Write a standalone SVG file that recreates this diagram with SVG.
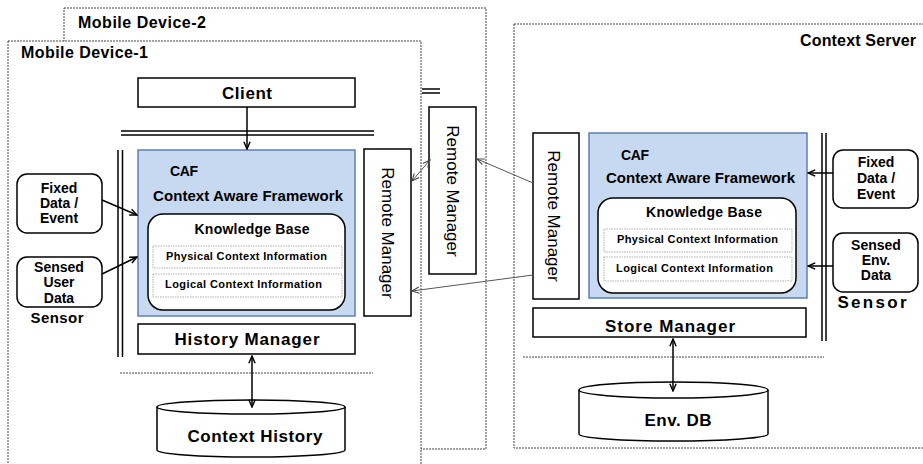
<svg xmlns="http://www.w3.org/2000/svg" width="923" height="464" viewBox="0 0 923 464">
<style>
.dot{fill:#fff;stroke:#444;stroke-width:1;stroke-dasharray:2 1}
.dl{fill:none;stroke:#444;stroke-width:1;stroke-dasharray:2 1}
.box{fill:#fff;stroke:#000;stroke-width:1.5}
.caf{fill:#c6d9f0;stroke:#5f7fb0;stroke-width:1.5}
.info{fill:#fff;stroke:#999;stroke-width:0.8;stroke-dasharray:1.5 1}
.ln{fill:none;stroke:#000;stroke-width:1.5}
.th{fill:none;stroke:#555;stroke-width:1}
text{font-family:"Liberation Sans",Arial,sans-serif;font-weight:bold;fill:#000}
.t15{font-size:15px}
.t16{font-size:16px}
.t17{font-size:17px}
.t14{font-size:14px}
.t11{font-size:11px}
.mid{text-anchor:middle}
.rm{font-weight:normal;font-size:17px;text-anchor:middle;dominant-baseline:central}
</style>
<defs>
<marker id="ah" viewBox="0 0 10 10" refX="9" refY="5" markerUnits="userSpaceOnUse" markerWidth="9" markerHeight="9" orient="auto-start-reverse">
<path d="M1,1.5 L9,5 L1,8.5" fill="none" stroke="#000" stroke-width="1.6"/>
</marker>
<marker id="ahg" viewBox="0 0 10 10" refX="9" refY="5" markerUnits="userSpaceOnUse" markerWidth="9" markerHeight="9" orient="auto-start-reverse">
<path d="M1,1.5 L9,5 L1,8.5" fill="none" stroke="#444" stroke-width="1.2"/>
</marker>
</defs>
<rect width="923" height="464" fill="#fff"/>

<g id="device2">
<rect class="dot" x="64" y="8" width="422" height="441"/>
<text class="t16" x="78" y="28" textLength="128">Mobile Device-2</text>
<line class="ln" x1="422" y1="89" x2="440" y2="89"/>
<line class="ln" x1="422" y1="93" x2="440" y2="93"/>
</g>
<g id="rm2">
<rect class="box" x="429" y="107" width="47" height="167"/>
<text class="rm" transform="translate(452,191) rotate(90)">Remote Manager</text>
</g>

<g id="device1">
<rect class="dot" x="8" y="41" width="413" height="440"/>
<text class="t16" x="21" y="58" textLength="127">Mobile Device-1</text>
<line class="ln" x1="121" y1="131" x2="374" y2="131"/>
<line class="ln" x1="121" y1="135" x2="374" y2="135"/>
<line class="ln" x1="118" y1="150" x2="118" y2="357"/>
<line class="ln" x1="122.5" y1="150" x2="122.5" y2="357"/>
<line class="dl" x1="120" y1="373" x2="373" y2="373"/>
<text class="t15 mid" x="57" y="323" textLength="53">Sensor</text>
</g>

<g id="client">
<rect class="box" x="138" y="78" width="217" height="29"/>
<text class="t17 mid" x="247" y="99" textLength="50">Client</text>
</g>

<g id="caf1">
<rect class="caf" x="138" y="150" width="217" height="166"/>
<text class="t14" x="170" y="176" textLength="28">CAF</text>
<text class="t15" x="153" y="201" textLength="190">Context Aware Framework</text>
<rect class="box" x="148" y="214" width="197" height="96" rx="15"/>
<text class="t14 mid" x="252" y="234" textLength="115">Knowledge Base</text>
<rect class="info" x="153" y="246" width="189" height="22"/>
<text class="t11" x="166" y="260" textLength="161">Physical Context Information</text>
<rect class="info" x="153" y="274" width="189" height="23"/>
<text class="t11" x="165" y="288" textLength="157">Logical Context Information</text>
</g>

<g id="fixed1">
<rect class="box" x="17" y="174" width="85" height="59" rx="10"/>
<text class="t14 mid" x="59" y="193">Fixed</text>
<text class="t14 mid" x="59" y="208">Data /</text>
<text class="t14 mid" x="59" y="223">Event</text>
</g>
<g id="sensed1">
<rect class="box" x="17" y="257" width="85" height="50" rx="10"/>
<text class="t14 mid" x="59" y="272">Sensed</text>
<text class="t14 mid" x="59" y="287">User</text>
<text class="t14 mid" x="59" y="303">Data</text>
</g>

<g id="rm1">
<rect class="box" x="364" y="149" width="47" height="167"/>
<text class="rm" transform="translate(387,233) rotate(90)">Remote Manager</text>
</g>

<g id="history-manager">
<rect class="box" x="138" y="324" width="217" height="30"/>
<text class="t17 mid" x="247" y="345" textLength="145">History Manager</text>
</g>

<g id="context-history">
<path class="box" d="M157,407 A94,7 0 0 1 345,407 L345,450 A94,7 0 0 1 157,450 Z"/>
<path class="ln" d="M157,407 A94,7 0 0 0 345,407"/>
<text class="t17 mid" x="255" y="442" textLength="135">Context History</text>
</g>

<g id="server">
<rect class="dot" x="514" y="24" width="420" height="424"/>
<text class="t16" x="916" y="46" text-anchor="end" textLength="116">Context Server</text>
<line class="ln" x1="822" y1="133" x2="822" y2="341"/>
<line class="ln" x1="826" y1="133" x2="826" y2="341"/>
<line class="dl" x1="523" y1="357" x2="824" y2="357"/>
<text class="t17 mid" x="872" y="308" textLength="69">Sensor</text>
</g>

<g id="rm-server">
<rect class="box" x="533" y="133" width="46" height="166"/>
<text class="rm" transform="translate(553,216) rotate(90)">Remote Manager</text>
</g>

<g id="caf-server">
<rect class="caf" x="589" y="133" width="218" height="165"/>
<text class="t14" x="621" y="160" textLength="28">CAF</text>
<text class="t15" x="606" y="183" textLength="189">Context Aware Framework</text>
<rect class="box" x="598" y="198" width="198" height="95" rx="15"/>
<text class="t14 mid" x="704" y="217" textLength="116">Knowledge Base</text>
<rect class="info" x="604" y="229" width="188" height="23"/>
<text class="t11" x="617" y="243" textLength="161">Physical Context Information</text>
<rect class="info" x="604" y="257" width="188" height="24"/>
<text class="t11" x="616" y="272" textLength="157">Logical Context Information</text>
</g>

<g id="fixed-server">
<rect class="box" x="833" y="150" width="85" height="58" rx="10"/>
<text class="t14 mid" x="876" y="167">Fixed</text>
<text class="t14 mid" x="876" y="183">Data /</text>
<text class="t14 mid" x="876" y="199">Event</text>
</g>
<g id="sensed-server">
<rect class="box" x="833" y="233" width="85" height="59" rx="10"/>
<text class="t14 mid" x="876" y="250">Sensed</text>
<text class="t14 mid" x="876" y="265">Env.</text>
<text class="t14 mid" x="876" y="280">Data</text>
</g>

<g id="store-manager">
<rect class="box" x="533" y="308" width="273" height="29"/>
<text class="t17 mid" x="670" y="332" textLength="130">Store Manager</text>
</g>

<g id="env-db">
<path class="box" d="M579,390 A94.5,8 0 0 1 768,390 L768,434 A94.5,7 0 0 1 579,434 Z"/>
<path class="ln" d="M579,390 A94.5,8 0 0 0 768,390"/>
<text class="t17 mid" x="678" y="426" textLength="67">Env. DB</text>
</g>

<g id="connectors">
<line class="ln" x1="247" y1="107" x2="247" y2="149" marker-end="url(#ah)"/>
<line class="ln" x1="102" y1="200" x2="137" y2="215" marker-end="url(#ah)"/>
<line class="ln" x1="102" y1="274" x2="137" y2="257" marker-end="url(#ah)"/>
<line class="ln" x1="252" y1="356" x2="252" y2="407" marker-start="url(#ah)" marker-end="url(#ah)"/>
<line class="ln" x1="833" y1="173" x2="808" y2="173" marker-end="url(#ah)"/>
<line class="ln" x1="833" y1="266" x2="808" y2="266" marker-end="url(#ah)"/>
<line class="ln" x1="673" y1="339" x2="673" y2="391" marker-start="url(#ah)" marker-end="url(#ah)"/>
<line class="th" x1="412" y1="181" x2="430" y2="160" marker-start="url(#ahg)" marker-end="url(#ahg)"/>
<line class="th" x1="533" y1="183" x2="477" y2="159" marker-end="url(#ahg)"/>
<line class="th" x1="533" y1="275" x2="412" y2="291" marker-end="url(#ahg)"/>
</g>
</svg>
